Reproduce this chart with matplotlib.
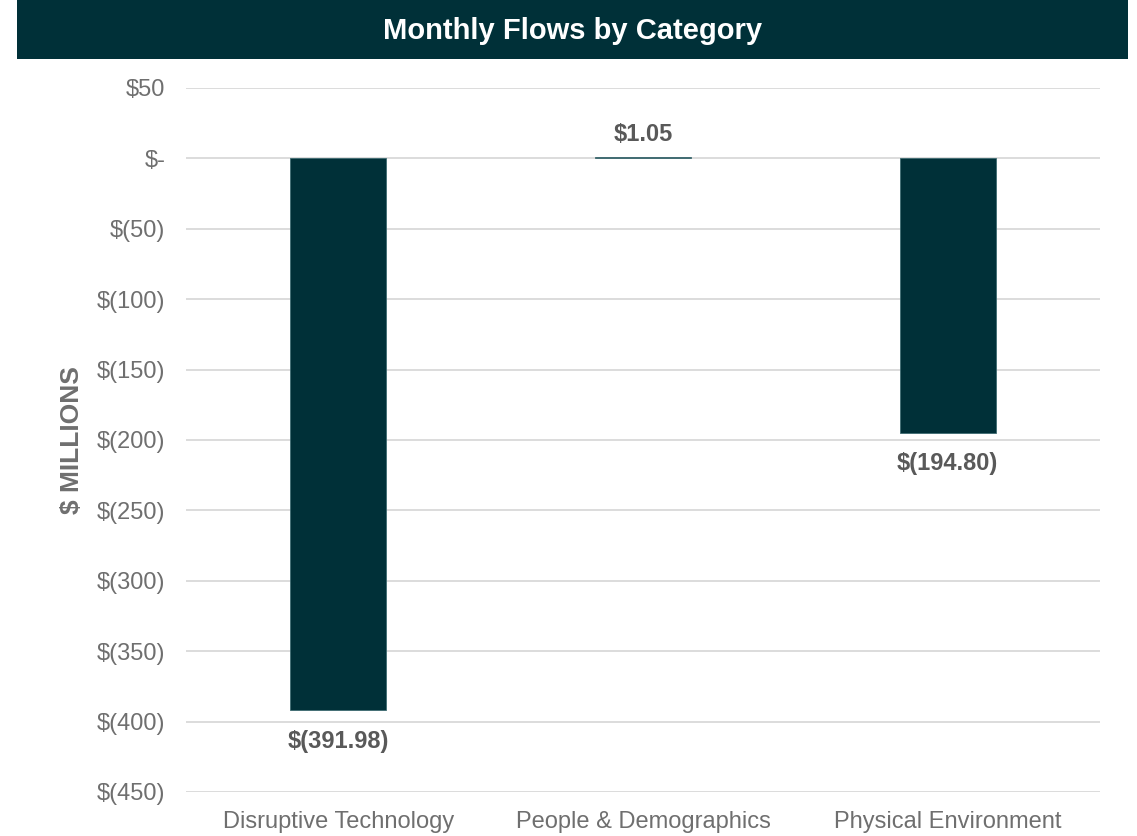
import matplotlib.pyplot as plt
from matplotlib.patches import Rectangle
from matplotlib.ticker import FixedLocator

plt.rcParams['font.family'] = ['Liberation Sans', 'DejaVu Sans']

# data
categories = ['Disruptive Technology', 'People & Demographics', 'Physical Environment']
flows = [-391.98, 1.05, -194.80]
tick_values = [50, 0, -50, -100, -150, -200, -250, -300, -350, -400, -450]

def money(v, decimals=0):
    if v == 0:
        return '$-'
    s = f'{abs(v):,.{decimals}f}'
    return f'$({s})' if v < 0 else f'${s}'

fig = plt.figure(figsize=(11.37, 8.36), dpi=100)

# title banner
fig.patches.append(Rectangle((17 / 1137, 1 - 59 / 836), (1128 - 17) / 1137, 59 / 836,
                             transform=fig.transFigure, facecolor='#003038',
                             edgecolor='none', zorder=0))
fig.text(0.5 * (17 + 1128) / 1137, 1 - 31 / 836, 'Monthly Flows by Category',
         color='white', fontsize=21, fontweight='bold', ha='center', va='center')

ax = fig.add_axes([186 / 1137, 1 - 792 / 836, (1100 - 186) / 1137, (792 - 88) / 836])

x = range(len(categories))
ax.bar(x, flows, width=0.315, color='#003038', edgecolor='#3d6a70', linewidth=0.6, zorder=3)

ax.set_xlim(-0.5, 2.5)
ax.set_ylim(-450, 50)
ax.yaxis.set_major_locator(FixedLocator(tick_values))
ax.set_yticklabels([money(v) for v in tick_values])
ax.set_xticks(list(x))
ax.set_xticklabels(categories)

ax.grid(axis='y', color='#d9d9d9', linewidth=1.3, zorder=0)
ax.set_axisbelow(True)
for side in ['top', 'right', 'left', 'bottom']:
    ax.spines[side].set_visible(False)
ax.tick_params(axis='both', length=0, labelsize=17, colors='#6f6f6f')
ax.tick_params(axis='y', pad=15)
ax.tick_params(axis='x', pad=14)

ax.set_ylabel('$ MILLIONS', fontsize=19, fontweight='bold', color='#6f6f6f', labelpad=9)

# data labels
for i, v in enumerate(flows):
    if v < 0:
        ax.annotate(money(v, 2), (i, v), xytext=(0, -14), textcoords='offset points',
                    ha='center', va='top', fontsize=17, fontweight='bold', color='#595959')
    else:
        ax.annotate(money(v, 2), (i, v), xytext=(0, 8), textcoords='offset points',
                    ha='center', va='bottom', fontsize=17, fontweight='bold', color='#595959')

fig.savefig('out.png', dpi=100)
